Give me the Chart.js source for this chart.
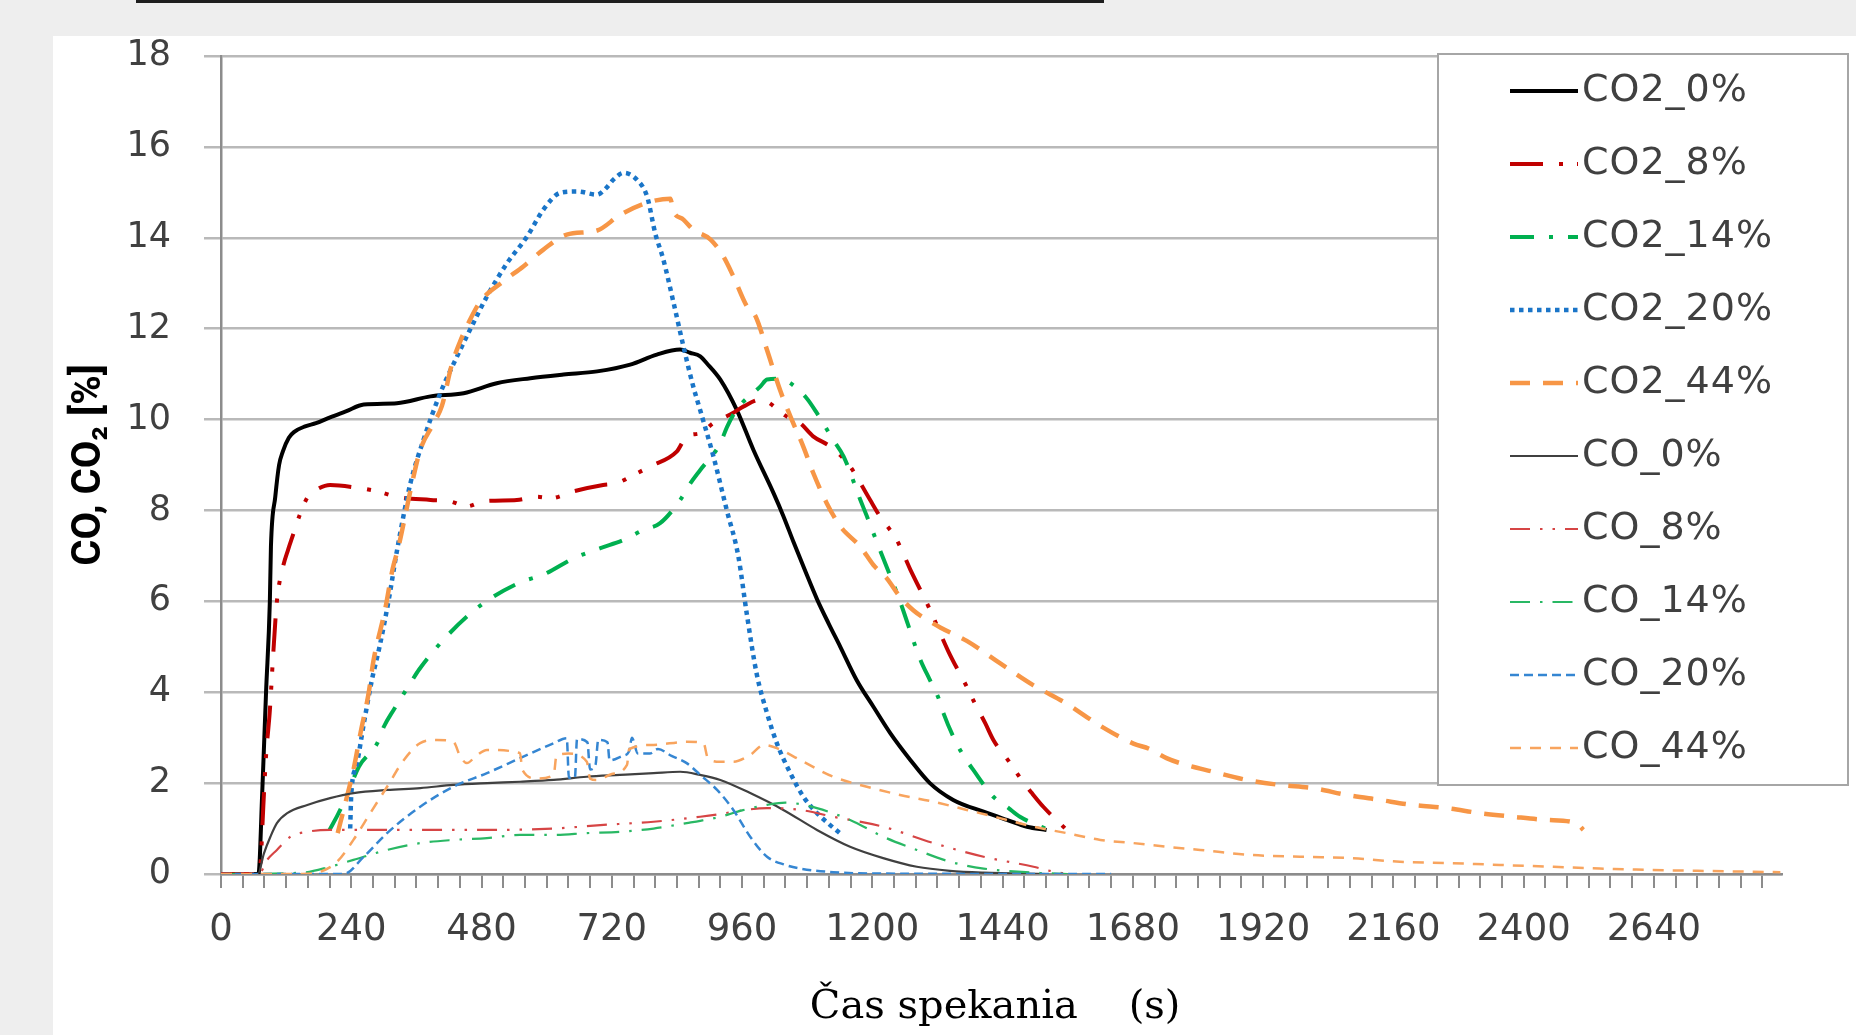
<!DOCTYPE html>
<html><head><meta charset="utf-8">
<script src="https://cdn.jsdelivr.net/npm/chart.js@4.4.1/dist/chart.umd.min.js"></script>
<style>
html,body{margin:0;padding:0;background:#eeeeee;width:1856px;height:1035px;overflow:hidden;}
#panel{position:absolute;left:53px;top:36px;width:1803px;height:999px;background:#ffffff;}
#topline{position:absolute;left:136px;top:0;width:968px;height:3px;background:#1e1e1e;}
#c{position:absolute;left:0;top:0;}
</style></head><body>
<div id="topline"></div><div id="panel"></div>
<canvas id="c" width="1856" height="1035"></canvas>
<script>
// ---- data (time in s, concentration in %) ----
const seriesLabels = ['CO2_0%','CO2_8%','CO2_14%','CO2_20%','CO2_44%','CO_0%','CO_8%','CO_14%','CO_20%','CO_44%'];

const co2_0_t = [0,69,76,83,90,92,100,107,114,125,135,155,175,201,230,263,324,386,447,508,570,631,693,754,803,846,864,883,895,920,950,981,1018,1036,1055,1077,1098,1120,1141,1171,1202,1233,1270,1306,1349,1405,1448,1485,1521];
const co2_0_v = [0,0,1.8,4.0,6.0,7.2,8.3,9.0,9.3,9.6,9.73,9.85,9.92,10.05,10.18,10.33,10.36,10.51,10.58,10.8,10.91,10.99,11.06,11.21,11.43,11.54,11.47,11.39,11.24,10.88,10.22,9.33,8.38,7.88,7.3,6.65,6.05,5.5,5.0,4.27,3.68,3.1,2.51,2.0,1.63,1.37,1.19,1.04,0.97];

const co2_8_t = [0,70,73,78,83,90,96,103,114,124,131,145,160,175,201,250,288,324,386,422,453,483,545,582,607,649,704,729,760,791,840,858,883,907,944,963,994,1042,1067,1091,1122,1159,1178,1196,1214,1245,1270,1306,1340,1374,1392,1408,1423,1454,1475,1494,1515,1558];
const co2_8_v = [0,0,0.25,1.5,2.6,3.6,4.8,6.0,6.75,7.15,7.4,7.9,8.3,8.45,8.56,8.5,8.42,8.3,8.23,8.2,8.09,8.2,8.23,8.3,8.27,8.42,8.56,8.6,8.78,8.97,9.3,9.63,9.7,9.92,10.15,10.29,10.44,10.07,9.92,9.63,9.41,8.97,8.6,8.23,7.87,7.35,6.7,5.82,4.9,4.12,3.68,3.32,2.95,2.44,2.07,1.78,1.48,0.97];

const co2_14_t = [200,215,231,254,288,300,318,349,365,415,477,548,596,650,699,742,778,809,846,865,883,920,932,950,994,1006,1030,1049,1079,1098,1128,1147,1178,1190,1214,1251,1288,1306,1322,1331,1355,1371,1386,1423,1451,1472,1533];
const co2_14_v = [0.97,1.3,1.7,2.36,2.88,3.24,3.61,4.2,4.5,5.22,5.9,6.4,6.6,6.95,7.17,7.35,7.57,7.72,8.23,8.6,8.89,9.48,9.83,10.22,10.73,10.88,10.9,10.8,10.47,10.14,9.55,9.19,8.23,7.87,7.13,6.0,4.73,4.27,3.87,3.54,2.88,2.55,2.29,1.7,1.45,1.26,0.93];

const co2_20_t = [238,240,250,263,278,293,310,324,349,373,404,435,459,490,527,564,594,625,656,693,710,723,742,766,785,800,815,834,852,870,883,907,932,953,969,987,1006,1024,1049,1073,1098,1120,1140];
const co2_20_v = [1.0,1.75,2.4,3.3,4.27,5.05,6.1,7.1,8.6,9.55,10.58,11.39,11.98,12.71,13.44,14.03,14.62,14.99,15.02,14.95,15.1,15.28,15.43,15.28,14.91,14.1,13.52,12.56,11.61,10.73,10.2,9.2,8.0,7.0,5.7,4.4,3.54,2.88,2.22,1.7,1.34,1.1,0.9];

const co2_44_t = [215,232,244,257,272,281,302,316,327,352,367,392,407,425,440,459,478,520,557,594,637,693,735,785,828,833,852,870,902,925,944,969,985,1006,1030,1049,1073,1091,1116,1141,1178,1202,1227,1251,1276,1300,1326,1374,1435,1497,1558,1620,1681,1711,1742,1767,1828,1890,1951,2012,2074,2135,2196,2258,2319,2380,2442,2497,2510];
const co2_44_v = [0.9,1.7,2.29,3.1,3.98,4.7,5.8,6.7,7.2,8.6,9.33,9.92,10.3,11.2,11.7,12.2,12.6,13.04,13.37,13.74,14.07,14.16,14.5,14.77,14.86,14.6,14.4,14.18,13.96,13.6,13.15,12.49,12.27,11.53,10.65,10.07,9.4,8.83,8.16,7.65,7.2,6.8,6.5,6.1,5.8,5.6,5.42,5.13,4.64,4.15,3.75,3.26,2.87,2.75,2.55,2.44,2.25,2.07,1.96,1.89,1.74,1.63,1.52,1.45,1.34,1.26,1.19,1.12,0.97];

const co_0_t = [0,68,79,91,103,122,159,201,244,306,367,428,490,551,613,674,735,797,846,883,920,975,1036,1098,1159,1220,1282,1343,1405,1520];
const co_0_v = [0,0,0.45,0.82,1.12,1.34,1.52,1.67,1.78,1.85,1.89,1.96,2.0,2.03,2.07,2.14,2.18,2.22,2.25,2.18,2.07,1.78,1.41,0.97,0.6,0.35,0.16,0.07,0.03,0];

const co_8_t = [0,70,85,103,128,159,201,275,490,613,705,797,883,920,944,1006,1067,1128,1220,1313,1405,1497,1527,1560];
const co_8_v = [0,0,0.31,0.53,0.82,0.93,0.97,0.97,0.97,1.0,1.08,1.15,1.26,1.32,1.37,1.45,1.41,1.26,1.04,0.68,0.38,0.16,0.07,0];

const co_14_t = [0,150,201,244,306,367,428,490,551,613,674,735,797,858,883,920,960,1006,1040,1055,1098,1159,1220,1282,1343,1405,1497,1560];
const co_14_v = [0,0.03,0.16,0.31,0.53,0.68,0.75,0.79,0.86,0.86,0.9,0.93,1.0,1.12,1.17,1.26,1.4,1.52,1.57,1.56,1.45,1.19,0.82,0.53,0.27,0.12,0.03,0];

const co_20_t = [0,226,263,306,367,428,490,551,613,637,641,652,656,675,680,690,695,712,716,740,752,757,768,790,805,830,858,883,914,944,975,1006,1040,1067,1128,1200,1640];
const co_20_v = [0,0,0.38,0.9,1.48,1.92,2.22,2.55,2.88,2.99,2.12,2.12,2.97,2.9,2.3,2.4,2.95,2.9,2.5,2.6,2.7,3.0,2.65,2.65,2.75,2.6,2.44,2.18,1.85,1.41,0.82,0.38,0.2,0.12,0.04,0.01,0];

const co_44_t = [0,150,183,214,244,275,306,337,367,398,428,441,453,470,490,551,555,582,613,618,640,674,680,693,720,748,752,797,858,889,897,920,944,975,1000,1024,1067,1128,1190,1251,1313,1374,1435,1497,1558,1620,1681,1742,1804,1896,1988,2080,2172,2264,2356,2448,2540,2632,2720,2873];
const co_44_v = [0,0,0.05,0.27,0.75,1.34,1.92,2.51,2.88,2.95,2.91,2.58,2.44,2.6,2.73,2.66,2.3,2.1,2.18,2.6,2.65,2.47,2.1,2.07,2.2,2.4,2.75,2.84,2.91,2.88,2.55,2.47,2.47,2.62,2.84,2.77,2.51,2.14,1.92,1.74,1.59,1.41,1.23,1.04,0.9,0.75,0.68,0.6,0.53,0.42,0.38,0.35,0.27,0.24,0.2,0.16,0.12,0.09,0.07,0.04];

const xLabelValues = [0,240,480,720,960,1200,1440,1680,1920,2160,2400,2640];
const xTitle = 'Čas spekania    (s) ';
const yTitle = 'CO, CO₂ [%]';

// ---- build ----
const seriesT = [co2_0_t,co2_8_t,co2_14_t,co2_20_t,co2_44_t,co_0_t,co_8_t,co_14_t,co_20_t,co_44_t];
const seriesV = [co2_0_v,co2_8_v,co2_14_v,co2_20_v,co2_44_v,co_0_v,co_8_v,co_14_v,co_20_v,co_44_v];
const styles = [
  {c:'#000000', w:4,   d:[]},
  {c:'#c00000', w:4,   d:[33,16,4,14,4,16]},
  {c:'#00b050', w:4,   d:[24,15,4,15]},
  {c:'#1a75c8', w:4.5, d:[4.5,4.5]},
  {c:'#f79646', w:4.5, d:[20,13]},
  {c:'#404040', w:2.2, d:[]},
  {c:'#d64545', w:2.2, d:[20,10,2.5,10,2.5,10]},
  {c:'#29b864', w:2.2, d:[20,10,2.5,10]},
  {c:'#3586d2', w:2.5, d:[9,5]},
  {c:'#f8a45e', w:2.5, d:[11,9]}
];
const xTickValues = [];
for (let v = 0; v <= 2840; v += 40) xTickValues.push(v);

const datasets = seriesLabels.map((lab, i) => ({
  label: lab,
  data: seriesT[i].map((t, k) => ({x: t, y: seriesV[i][k]})),
  borderColor: styles[i].c,
  borderWidth: styles[i].w,
  borderDash: styles[i].d,
  pointRadius: 0,
  fill: false,
  cubicInterpolationMode: 'monotone',
  order: 10 - i
}));

const legendPlugin = {
  id: 'boxLegend',
  afterDraw(chart) {
    const ctx = chart.ctx;
    ctx.save();
    const L = 1438, T = 54, R = 1848, B = 785;
    ctx.fillStyle = '#ffffff';
    ctx.fillRect(L, T, R - L, B - T);
    ctx.strokeStyle = '#a6a6a6';
    ctx.lineWidth = 2;
    ctx.strokeRect(L, T, R - L, B - T);
    chart.data.datasets.forEach((ds, i) => {
      const y = 91 + i * 73;
      ctx.beginPath();
      ctx.setLineDash(ds.borderDash || []);
      ctx.strokeStyle = ds.borderColor;
      ctx.lineWidth = ds.borderWidth;
      ctx.lineCap = 'butt';
      ctx.moveTo(1510, y); ctx.lineTo(1578, y);
      ctx.stroke();
      ctx.setLineDash([]);
      ctx.fillStyle = '#404040';
      ctx.font = '38px "DejaVu Sans"';
      if ('letterSpacing' in ctx) ctx.letterSpacing = '1px';
      ctx.textBaseline = 'middle';
      ctx.textAlign = 'left';
      ctx.fillText(ds.label, 1582, y);
    });
    ctx.restore();
  }
};

new Chart(document.getElementById('c'), {
  type: 'line',
  data: {datasets},
  plugins: [legendPlugin],
  options: {
    responsive: false,
    animation: false,
    devicePixelRatio: 1,
    layout: {padding: {left: 0, top: 56, right: 74, bottom: 0}},
    plugins: {legend: {display: false}, tooltip: {enabled: false}},
    elements: {line: {tension: 0, borderCapStyle: 'butt', borderJoinStyle: 'round'}, point: {radius: 0}},
    scales: {
      x: {
        type: 'linear', min: 0, max: 2876,
        afterBuildTicks: axis => { axis.ticks = xTickValues.map(v => ({value: v})); },
        afterFit: s => { s.height = 161; },
        grid: {drawOnChartArea: false, drawTicks: true, tickLength: 14, color: '#8c8c8c', lineWidth: 2},
        border: {display: true, color: '#8c8c8c', width: 2.5},
        ticks: {autoSkip: false, maxRotation: 0, minRotation: 0, padding: 20, color: '#404040',
          font: {family: 'DejaVu Sans', size: 37},
          callback: v => xLabelValues.includes(v) ? String(v) : ''},
        title: {display: true, text: xTitle, color: '#000000',
          font: {family: 'DejaVu Serif', size: 40, lineHeight: 1.2}, padding: {top: 0, bottom: 3}}
      },
      y: {
        min: 0, max: 18,
        afterFit: s => { s.width = 221; },
        ticks: {stepSize: 2, padding: 33, color: '#404040', font: {family: 'DejaVu Sans', size: 35}},
        grid: {color: '#b9b9b9', lineWidth: 2.5, tickLength: 17, drawTicks: true},
        border: {display: true, color: '#8c8c8c', width: 2.5},
        title: {display: true, text: yTitle, color: '#000000',
          font: {family: 'Roboto', size: 40, weight: 'bold', lineHeight: 1.2}, padding: {top: 66, bottom: 0}}
      }
    }
  }
});
</script></body></html>
